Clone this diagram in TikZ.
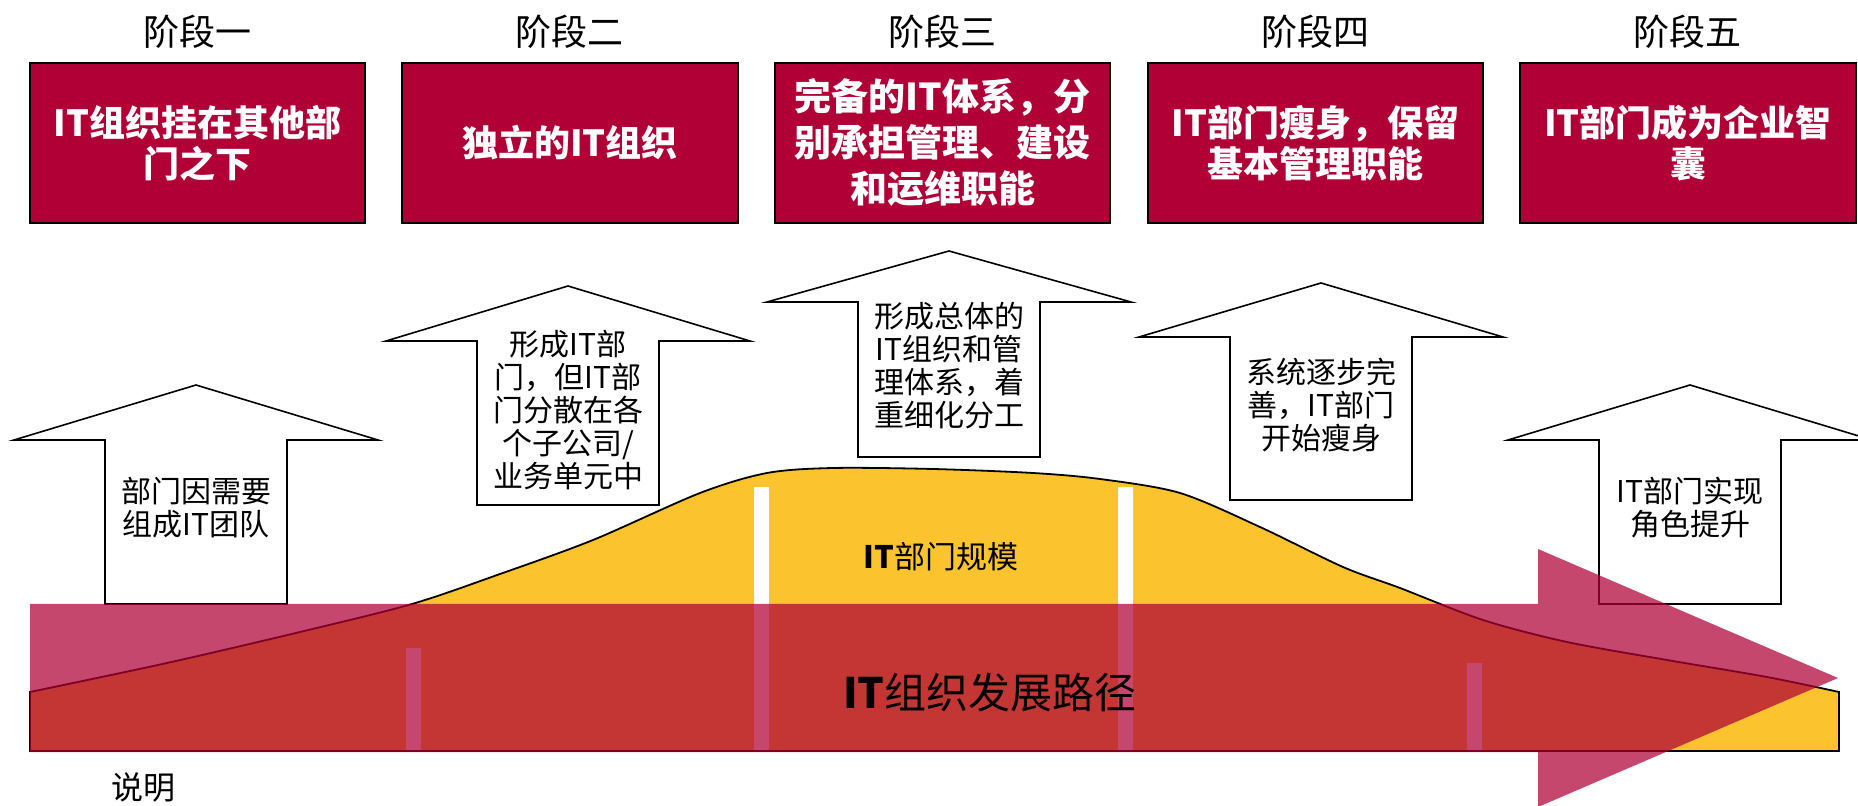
\documentclass[tikz,border=0pt]{standalone}
\usepackage{fontspec}
\setmainfont{Noto Sans CJK SC}
\usepackage{tikz}
\definecolor{stagered}{RGB}{176,0,54}
\definecolor{scaleyellow}{RGB}{251,195,45}

\begin{document}
\begin{tikzpicture}[x=0.5pt, y=-0.5pt,
        stagebox/.style={draw=black, line width=1pt, fill=stagered, text=white, minimum width=167.75pt, minimum height=80pt, inner sep=0pt, align=center, font=\fontsize{18pt}{20.5pt}\selectfont\bfseries},
        stagetitle/.style={font=\fontsize{18pt}{20pt}\selectfont},
        blockarrow/.style={draw=black, line width=0.8pt, fill=white},
        notetext/.style={inner sep=0pt, align=center, font=\fontsize{15pt}{16.5pt}\selectfont}]
        \useasboundingbox (0, 0) rectangle (1858, 806);
        \fill[white] (0, 0) rectangle (1858, 806);
        \foreach \i/\t in {1/一, 2/二, 3/三, 4/四, 5/五} {
                \node[stagetitle] (title\i) at ({197 + 372.7 * (\i - 1)}, 32) {阶段\t};
            }
        \node[stagebox] (stage1) at (197.3, 143) {IT组织挂在其他部\\门之下};
        \node[stagebox] (stage2) at (570, 143) {独立的IT组织};
        \node[stagebox, font=\fontsize{18.5pt}{23pt}\selectfont\bfseries] (stage3) at (942.7, 143) {完备的IT体系，分\\别承担管理、建设\\和运维职能};
        \node[stagebox] (stage4) at (1315.4, 143) {IT部门瘦身，保留\\基本管理职能};
        \node[stagebox] (stage5) at (1688, 143) {IT部门成为企业智\\囊};
        \foreach \cx/\tip/\base/\bot in {196/385/440/604, 568/286/341/505, 949/251/302/457, 1321/283/337/500, 1690/385/440/604} {
                \draw[blockarrow] (\cx - 91, \bot) -- (\cx - 91, \base) -- (\cx - 182, \base) -- (\cx, \tip) -- (\cx + 182, \base) -- (\cx + 91, \base) -- (\cx + 91, \bot) -- cycle;
            }
        \node[notetext] (note1) at (196, 508) {部门因需要\\组成IT团队};
        \node[notetext] (note2) at (568, 410) {形成IT部\\门，但IT部\\门分散在各\\个子公司/\\业务单元中};
        \node[notetext] (note3) at (949, 366) {形成总体的\\IT组织和管\\理体系，着\\重细化分工};
        \node[notetext] (note4) at (1321, 405) {系统逐步完\\善，IT部门\\开始瘦身};
        \node[notetext] (note5) at (1690, 508) {IT部门实现\\角色提升};
        \filldraw[fill=scaleyellow, draw=black, line width=0.9pt] (30, 751) -- plot[smooth] coordinates {(30, 692) (167, 663) (300, 632) (412, 604) (500, 574) (593, 540) (700, 493) (767, 473) (833, 468) (933, 469) (1033, 473) (1100, 479) (1180, 493) (1260, 527) (1343, 567) (1400, 588) (1483, 620) (1567, 642) (1667, 660) (1767, 677) (1839, 692)} -- (1839, 751) -- cycle;
        \foreach \x/\top in {413.5/648, 761/487, 1125.5/487, 1474/663} {
                \fill[white] (\x - 7.5, \top) rectangle (\x + 7.5, 750);
            }
        \fill[stagered, fill opacity=.72] (30, 604) -- (1538, 604) -- (1538, 549) -- (1838, 678) -- (1538, 807) -- (1538, 752) -- (30, 752) -- cycle;
        \node[font=\fontsize{15.5pt}{17pt}\selectfont] (scale) at (941, 557) {\textbf{IT}部门规模};
        \node[font=\fontsize{21pt}{23pt}\selectfont] (path) at (990, 693) {\textbf{IT}组织发展路径};
        \node[font=\fontsize{16pt}{18pt}\selectfont] (legend) at (143, 787) {说明};
    \end{tikzpicture}
\end{document}
